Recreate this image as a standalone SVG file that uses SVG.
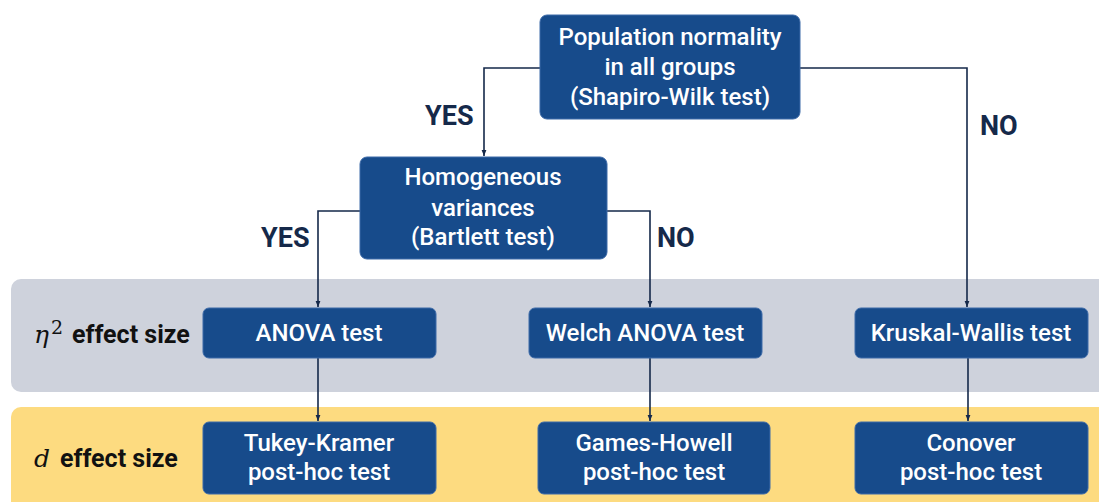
<svg xmlns="http://www.w3.org/2000/svg" width="1099" height="502" viewBox="0 0 1099 502">
<defs>
<style>
.box{fill:#174b8b;stroke:#3d6aa8;stroke-width:1}
.bt{font-family:Roboto,"Liberation Sans",sans-serif;font-weight:500;font-size:24px;fill:#ffffff;text-anchor:middle}
.lbl{font-family:Roboto,"Liberation Sans",sans-serif;font-weight:700;font-size:27px;fill:#15294a}
.side{font-family:Roboto,"Liberation Sans",sans-serif;font-weight:700;font-size:25px;fill:#111}
.math{font-family:"DejaVu Serif","Liberation Serif",serif;font-style:italic;font-size:25px;fill:#111}
.sup{font-family:"DejaVu Serif","Liberation Serif",serif;font-size:19px;fill:#111}
.con{fill:none;stroke:#15294a;stroke-width:1.6}
</style>
<marker id="arr" viewBox="0 0 10 10" refX="10" refY="5" markerWidth="6" markerHeight="6" markerUnits="userSpaceOnUse" orient="auto">
<path d="M0,1 L10,5 L0,9 z" fill="#15294a"/>
</marker>
</defs>
<rect width="1099" height="502" fill="#ffffff"/>
<g id="bands">
<rect x="11" y="279" width="1110" height="113" rx="10" fill="#ced2dc"/>
<rect x="11" y="407" width="1110" height="110" rx="10" fill="#fddb80"/>
<text class="math" x="34" y="343">η</text>
<text class="sup" x="51" y="334">2</text>
<text class="side" x="72" y="343">effect size</text>
<text class="math" x="34" y="467">d</text>
<text class="side" x="60" y="467">effect size</text>
</g>
<g id="connectors">
<path class="con" d="M540,68 H484 V156" marker-end="url(#arr)"/>
<path class="con" d="M800,68 H967 V307" marker-end="url(#arr)"/>
<path class="con" d="M360,211 H318 V307" marker-end="url(#arr)"/>
<path class="con" d="M607,211 H650 V307" marker-end="url(#arr)"/>
<path class="con" d="M318,358 V421" marker-end="url(#arr)"/>
<path class="con" d="M650,358 V421" marker-end="url(#arr)"/>
<path class="con" d="M968,358 V421" marker-end="url(#arr)"/>
<text class="lbl" x="425" y="125">YES</text>
<text class="lbl" x="980" y="135">NO</text>
<text class="lbl" x="261" y="247">YES</text>
<text class="lbl" x="657" y="247">NO</text>
</g>
<g id="n-normality">
<rect class="box" x="540" y="15" width="260" height="104" rx="7"/>
<text class="bt" x="670" y="45">Population normality</text>
<text class="bt" x="670" y="75">in all groups</text>
<text class="bt" x="670" y="105">(Shapiro-Wilk test)</text>
</g>
<g id="n-homog">
<rect class="box" x="360" y="157" width="247" height="102" rx="7"/>
<text class="bt" x="483" y="185">Homogeneous</text>
<text class="bt" x="483" y="216">variances</text>
<text class="bt" x="483" y="245">(Bartlett test)</text>
</g>
<g id="n-anova">
<rect class="box" x="203" y="308" width="233" height="50" rx="6"/>
<text class="bt" x="319" y="341">ANOVA test</text>
</g>
<g id="n-welch">
<rect class="box" x="529" y="308" width="233" height="50" rx="6"/>
<text class="bt" x="645" y="341">Welch ANOVA test</text>
</g>
<g id="n-kruskal">
<rect class="box" x="855" y="308" width="233" height="50" rx="6"/>
<text class="bt" x="971" y="341">Kruskal-Wallis test</text>
</g>
<g id="n-tukey">
<rect class="box" x="203" y="422" width="233" height="72" rx="6"/>
<text class="bt" x="319" y="451">Tukey-Kramer</text>
<text class="bt" x="319" y="480">post-hoc test</text>
</g>
<g id="n-games">
<rect class="box" x="538" y="422" width="232" height="72" rx="6"/>
<text class="bt" x="654" y="451">Games-Howell</text>
<text class="bt" x="654" y="480">post-hoc test</text>
</g>
<g id="n-conover">
<rect class="box" x="855" y="422" width="233" height="72" rx="6"/>
<text class="bt" x="971" y="451">Conover</text>
<text class="bt" x="971" y="480">post-hoc test</text>
</g>
</svg>
